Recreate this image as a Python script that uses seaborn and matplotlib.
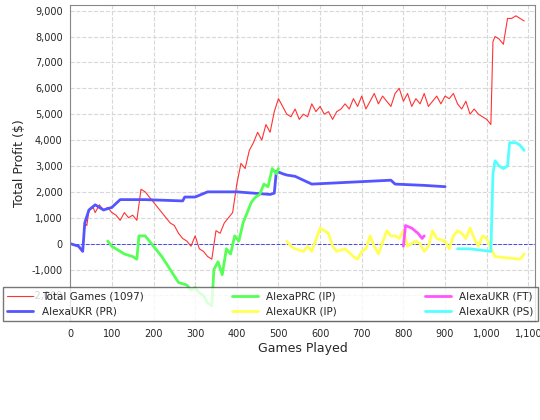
import matplotlib
matplotlib.use("Agg")
import pandas as pd
import seaborn as sns
from matplotlib import pyplot as plt
from matplotlib.ticker import FuncFormatter

# 红线：全部游戏
total_x = [0, 20, 30, 35, 40, 45, 55, 60, 70, 80, 90, 100, 110, 120, 130, 140, 150, 160, 170, 180, 190,
           200, 210, 220, 230, 240, 250, 260, 270, 280, 290, 300, 310, 320, 330, 340, 350, 360, 370, 380,
           390, 400, 410, 420, 430, 440, 450, 460, 470, 480, 490, 500, 510, 520, 530, 540, 550, 560, 570,
           580, 590, 600, 610, 620, 630, 640, 650, 660, 670, 680, 690, 700, 710, 720, 730, 740, 750, 760,
           770, 780, 790, 800, 810, 820, 830, 840, 850, 860, 870, 880, 890, 900, 910, 920, 930, 940, 950,
           960, 970, 980, 990, 1000, 1010, 1015, 1020, 1030, 1040, 1050, 1060, 1070, 1080, 1090]
total_y = [0, -100, -300, 800, 700, 1300, 1400, 1200, 1500, 1300, 1400, 1200, 1100, 900, 1200, 1000, 1100,
           900, 2100, 2000, 1800, 1600, 1400, 1200, 1000, 800, 700, 400, 200, 100, -100, 300, -200, -300,
           -500, -600, 500, 400, 800, 1000, 1200, 2300, 3100, 2900, 3600, 3900, 4300, 4000, 4600, 4300, 5100,
           5600, 5300, 5000, 4900, 5200, 4800, 5000, 4900, 5400, 5100, 5300, 5000, 5100, 4800, 5100, 5200,
           5400, 5200, 5600, 5300, 5700, 5200, 5500, 5800, 5400, 5700, 5500, 5300, 5800, 6000, 5500, 5800,
           5300, 5600, 5400, 5800, 5300, 5500, 5700, 5400, 5700, 5600, 5800, 5400, 5200, 5500, 5000, 5200,
           5000, 4900, 4800, 4600, 7800, 8000, 7900, 7700, 8700, 8700, 8800, 8700, 8600]

pr_x = [0, 20, 30, 35, 45, 60, 80, 100, 120, 170, 180, 270, 275, 300, 330, 400, 480, 490, 495, 510, 520,
        540, 560, 580, 770, 780, 850, 900]
pr_y = [0, -100, -300, 800, 1300, 1500, 1300, 1400, 1700, 1700, 1700, 1650, 1800, 1800, 2000, 2000, 1900,
        1950, 2800, 2700, 2650, 2600, 2450, 2300, 2450, 2300, 2250, 2200]

prc_x = [90, 100, 110, 130, 150, 160, 165, 180, 190, 200, 220, 240, 260, 280, 290, 300, 310, 320, 330, 340,
         345, 355, 365, 375, 385, 395, 405, 415, 425, 435, 445, 455, 465, 475, 485, 495, 500]
prc_y = [100, -100, -200, -400, -500, -600, 300, 300, 100, -100, -500, -1000, -1500, -1600, -1800, -1700,
         -1900, -2000, -2300, -2400, -1000, -700, -1200, -200, -400, 300, 100, 800, 1200, 1600, 1800, 1900,
         2300, 2200, 2900, 2700, 2900]

ip_x = [520, 530, 540, 560, 570, 580, 600, 620, 630, 640, 660, 680, 690, 700, 710, 720, 730, 740, 760, 770,
        780, 790, 800, 810, 820, 830, 840, 850, 860, 870, 880, 900, 910, 920, 930, 940, 950, 960, 970, 980,
        990, 1000, 1010, 1020, 1080, 1090]
ip_y = [100, -100, -200, -300, -100, -300, 600, 400, -100, -300, -200, -500, -600, -300, -200, 300, -100,
        -400, 500, 300, 300, 200, 500, -100, 0, 100, 0, -300, -100, 500, 200, 100, -200, 300, 500, 400, 200,
        600, 200, -100, 300, 200, -200, -500, -600, -400]

ft_x = [800, 805, 820, 835, 845, 850]
ft_y = [-100, 700, 600, 400, 200, 300]

ps_x = [930, 960, 1010, 1015, 1020, 1030, 1040, 1050, 1055, 1070, 1080, 1090]
ps_y = [-200, -200, -300, 2700, 3200, 3000, 2900, 3000, 3900, 3900, 3800, 3600]

series = [
    ("Total Games (1097)", total_x, total_y, "#ff3333", 0.8),
    ("AlexaUKR (PR)", pr_x, pr_y, "#5555ff", 2),
    ("AlexaPRC (IP)", prc_x, prc_y, "#55ff55", 2),
    ("AlexaUKR (IP)", ip_x, ip_y, "#ffff55", 2),
    ("AlexaUKR (FT)", ft_x, ft_y, "#ff55ff", 2),
    ("AlexaUKR (PS)", ps_x, ps_y, "#55ffff", 2),
]

sns.set_style("whitegrid", {"grid.color": "#d8d8d8", "grid.linestyle": "--", "axes.edgecolor": "#888888"})
plt.rcParams['font.family'] = ['DejaVu Sans']

fig = plt.figure(figsize=(5.4, 4.2), dpi=100)
ax = fig.add_axes([0.13, 0.235, 0.86, 0.752])
ax.axhline(0, color="#4444ff", lw=0.7, ls="--")
for name, xs, ys, c, lw in series:
    df = pd.DataFrame({"x": xs, "y": ys})
    sns.lineplot(data=df, x="x", y="y", ax=ax, color=c, lw=lw, label=name, sort=False)

ax.set_xlim(0, 1115)
ax.set_ylim(-3000, 9200)
ax.set_xticks(range(0, 1101, 100))
ax.set_yticks(range(-2000, 9001, 1000))
fmt = FuncFormatter(lambda v, p: f"{int(v):,}")
ax.xaxis.set_major_formatter(fmt)
ax.yaxis.set_major_formatter(fmt)
ax.tick_params(labelsize=7, length=2)
ax.set_xlabel("Games Played", fontsize=9, labelpad=2)
ax.set_ylabel("Total Profit ($)", fontsize=9)
handles, labels = ax.get_legend_handles_labels()
ax.get_legend().remove()
fig.legend(handles, labels, loc="upper left", bbox_to_anchor=(0.006, 0.186, 0.99, 0.13), mode="expand",
           ncol=3, fontsize=7.5, frameon=True, fancybox=False, edgecolor="#555555", borderaxespad=0,
           handlelength=2.5)
fig.savefig("out.png", dpi=100)
